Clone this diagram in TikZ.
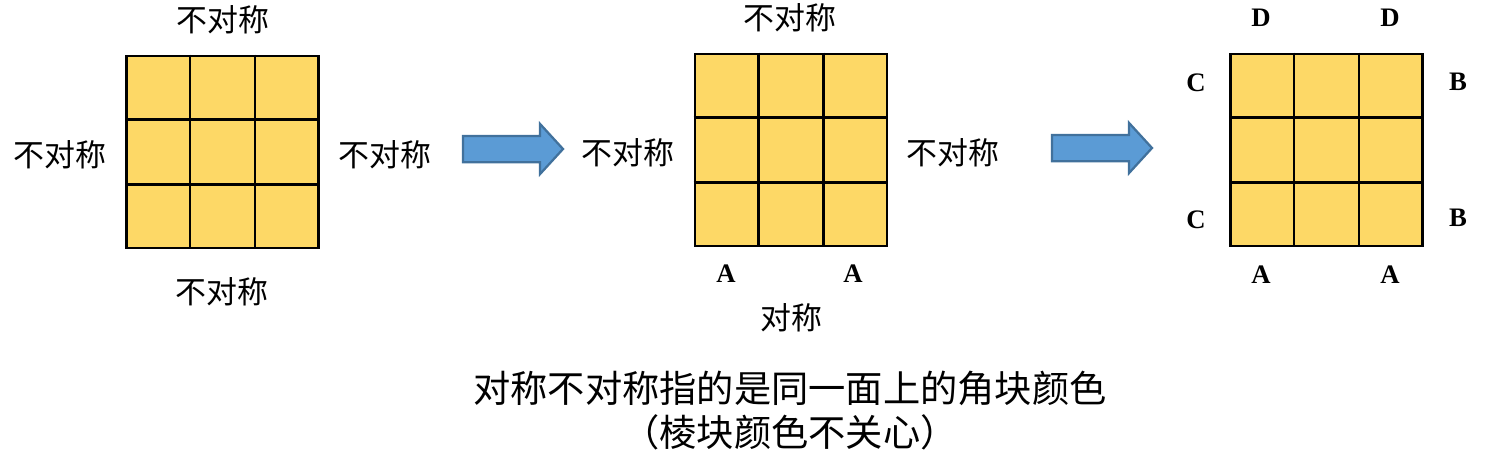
\documentclass[tikz,border=0pt]{standalone}
\usepackage{fontspec}
\setmainfont{Liberation Serif}
\newfontfamily\cjk{Noto Sans CJK SC}
\usetikzlibrary{shapes.arrows,calc}
\definecolor{facey}{HTML}{FDD866}
\definecolor{arrblue}{HTML}{5B9BD5}
\definecolor{arredge}{HTML}{41719C}
\begin{document}
\begin{tikzpicture}[x=0.25mm,y=-0.25mm,
  face/.style={draw,fill=facey,line width=2.1pt,minimum size=48mm,inner sep=0pt},
  lbl/.style={font=\cjk\fontsize{22}{24}\selectfont,inner sep=0pt},
  corner/.style={font=\bfseries\fontsize{19}{21}\selectfont,inner sep=0pt},
  captext/.style={font=\cjk\fontsize{26.5}{30}\selectfont,inner sep=0pt},
  flow/.style={single arrow,draw=arredge,fill=arrblue,line width=1.6pt,
    minimum height=25mm,minimum width=12mm,single arrow head extend=3mm,
    single arrow tip angle=95,inner xsep=0pt,inner ysep=3mm}]
\useasboundingbox (0,0) rectangle (1508,458);
% three faces
\node[face] (g1) at (222.5,152) {};
\node[face] (g2) at (791,150) {};
\node[face] (g3) at (1326.5,150) {};
\foreach \g in {g1,g2,g3}{
  \draw[line width=2.1pt] ($(\g.north west)!1/3!(\g.north east)$) -- ($(\g.south west)!1/3!(\g.south east)$);
  \draw[line width=2.1pt] ($(\g.north west)!2/3!(\g.north east)$) -- ($(\g.south west)!2/3!(\g.south east)$);
  \draw[line width=2.1pt] ($(\g.north west)!1/3!(\g.south west)$) -- ($(\g.north east)!1/3!(\g.south east)$);
  \draw[line width=2.1pt] ($(\g.north west)!2/3!(\g.south west)$) -- ($(\g.north east)!2/3!(\g.south east)$);
}
% face 1
\node[lbl] (t1) at (223,20) {不对称};
\node[lbl] (l1) at (60,155) {不对称};
\node[lbl] (r1) at (385,155) {不对称};
\node[lbl] (b1) at (222,292) {不对称};
% face 2
\node[lbl] (t2) at (790,18) {不对称};
\node[lbl] (l2) at (628,153) {不对称};
\node[lbl] (r2) at (953,153) {不对称};
\node[corner] (a21) at (726,274) {A};
\node[corner] (a22) at (853,274) {A};
\node[lbl] (s2) at (791,318) {对称};
% face 3
\node[corner] (d31) at (1261,18) {D};
\node[corner] (d32) at (1390,18) {D};
\node[corner] (c31) at (1196,83) {C};
\node[corner] (c32) at (1196,220) {C};
\node[corner] (b31) at (1458,82) {B};
\node[corner] (b32) at (1458,218) {B};
\node[corner] (a31) at (1261,275) {A};
\node[corner] (a32) at (1390,275) {A};
% arrows
\node[flow] (f1) at (507,149) {};
\node[flow] (f2) at (1096,148) {};
% caption
\node[captext] (n1) at (790,388) {对称不对称指的是同一面上的角块颜色};
\node[captext] (n2) at (790,432) {（棱块颜色不关心）};
\end{tikzpicture}
\end{document}
